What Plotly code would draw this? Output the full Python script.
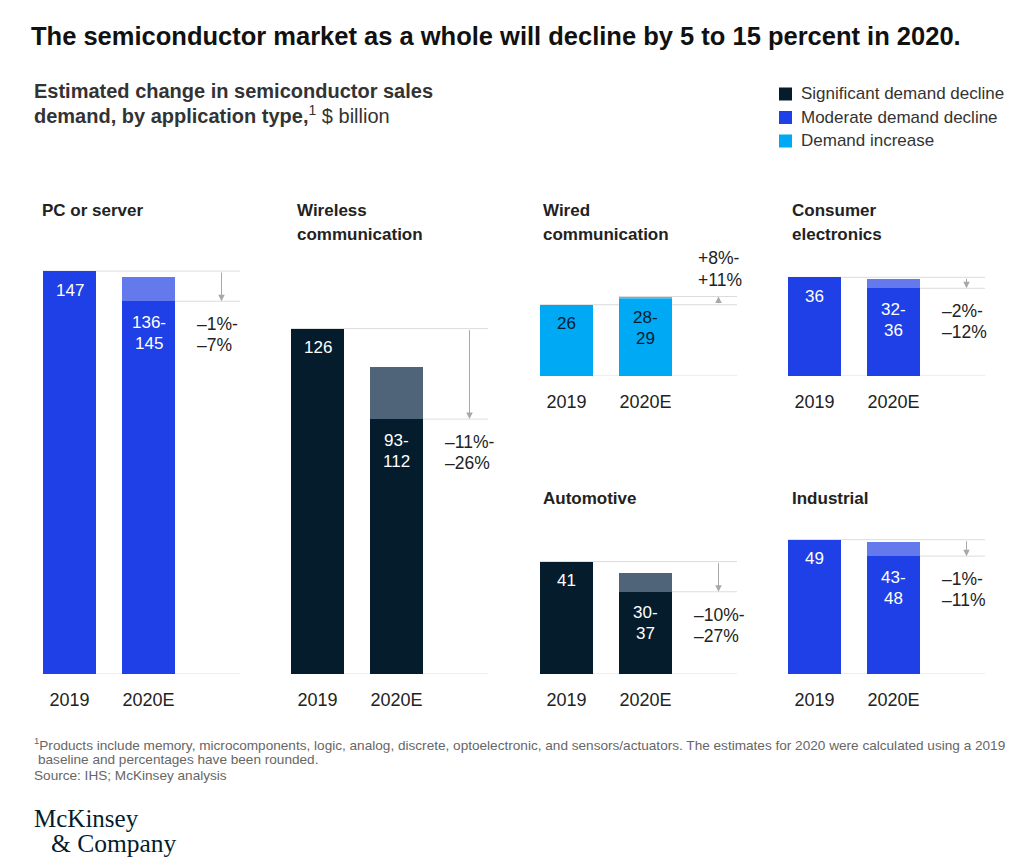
import plotly.graph_objects as go

# ---------------- data ----------------
panel_titles = [["PC or server"], ["Wireless", "communication"], ["Wired", "communication"],
                ["Consumer", "electronics"], ["Automotive"], ["Industrial"]]
years = ["2019", "2020E"]
sales_2019 = [147, 126, 26, 36, 41, 49]
est_2020_low = [136, 93, 28, 32, 30, 43]
est_2020_high = [145, 112, 29, 35.3, 37, 48]
range_labels = [["136-", "145"], ["93-", "112"], ["28-", "29"], ["32-", "36"], ["30-", "37"], ["43-", "48"]]
change_labels = [["–1%-", "–7%"], ["–11%-", "–26%"], ["+8%-", "+11%"], ["–2%-", "–12%"],
                 ["–10%-", "–27%"], ["–1%-", "–11%"]]
demand_type = ["moderate", "significant", "increase", "moderate", "significant", "moderate"]
legend_keys = ["significant", "moderate", "increase"]
legend_labels = ["Significant demand decline", "Moderate demand decline", "Demand increase"]

title_text = "The semiconductor market as a whole will decline by 5 to 15 percent in 2020."
subtitle_lines = ["<b>Estimated change in semiconductor sales</b>",
                  "<b>demand, by application type,</b><sup>1</sup> $ billion"]
footnote_lines = ["<sup>1</sup>Products include memory, microcomponents, logic, analog, discrete, optoelectronic, "
                  "and sensors/actuators. The estimates for 2020 were calculated using a 2019",
                  "baseline and percentages have been rounded.",
                  "Source: IHS; McKinsey analysis"]

# ---------------- style / layout ----------------
W, H = 1024, 864
OFF = 8  # page body margin
FONT = "Liberation Sans, Arial, sans-serif"
COLORS = {"significant": ("#051c2c", "#4f6478"),
          "moderate": ("#1f40e6", "#6479ec"),
          "increase": ("#00a9f4", "#45bff6")}
LABEL_COL = {"significant": "#ffffff", "moderate": "#ffffff", "increase": "#051c2c"}
GRID = "#dcdcdc"
ARROW = "#a8a8a8"
TEXT = "#222222"

PX_PER_UNIT = 2.741
BAR_STEP = 79.0
BAR_W_PX = 53.0
PANEL_W = 197.0
panel_left = [43, 291, 540, 788, 540, 788]
panel_base = [674, 674, 376, 376, 674, 674]
panel_top = [255, 255, 262, 262, 530, 530]
title_pos = [(40, 210), (295, 210), (541, 210), (790, 210), (541, 498), (790, 498)]


def fx(px):
    return (px - OFF) / W


def fy(py):
    return 1 - (py - OFF) / H


fig = go.Figure()
annotations = []
shapes = []
layout_axes = {}

for i in range(6):
    n = "" if i == 0 else str(i + 1)
    xa, ya = "x" + n, "y" + n
    kind = demand_type[i]
    dark, light = COLORS[kind]
    base = sales_2019[i]
    low, high = est_2020_low[i], est_2020_high[i]
    extreme = high if kind == "increase" else low
    idx_2019, idx_2020 = 0, 1  # category positions on the x axis

    # bars: 2019 value and lower bound of 2020E, then the estimate band on top
    fig.add_trace(go.Bar(x=years, y=[base, low], marker=dict(color=dark, line=dict(width=0)),
                         width=BAR_W_PX / BAR_STEP, xaxis=xa, yaxis=ya, showlegend=False,
                         hoverinfo="skip"))
    fig.add_trace(go.Bar(x=[years[1]], y=[high - low], marker=dict(color=light, line=dict(width=0)),
                         width=BAR_W_PX / BAR_STEP, xaxis=xa, yaxis=ya, showlegend=False,
                         hoverinfo="skip"))

    x0 = -BAR_W_PX / 2 / BAR_STEP
    x1 = x0 + PANEL_W / BAR_STEP
    y1 = (panel_base[i] - panel_top[i]) / PX_PER_UNIT
    layout_axes["xaxis" + n] = dict(
        domain=[fx(panel_left[i]), fx(panel_left[i] + PANEL_W)], range=[x0, x1],
        type="category", categoryorder="array", categoryarray=years,
        anchor=ya, showgrid=False, zeroline=False, showline=False,
        ticks="outside", ticklen=9, tickcolor="rgba(0,0,0,0)",
        tickfont=dict(family=FONT, size=18, color=TEXT), fixedrange=True)
    layout_axes["yaxis" + n] = dict(
        domain=[fy(panel_base[i]), fy(panel_top[i])], range=[0, y1], anchor=xa,
        visible=False, fixedrange=True)

    xd = xa + " domain"
    # reference lines
    shapes.append(dict(type="line", xref=xd, yref=ya, x0=0, x1=1, y0=0, y1=0,
                       line=dict(color=GRID, width=1), layer="below"))
    shapes.append(dict(type="line", xref=xd, yref=ya, x0=0, x1=1, y0=base, y1=base,
                       line=dict(color=GRID, width=1), layer="below"))
    shapes.append(dict(type="line", xref=xd, yref=ya, x0=BAR_STEP / PANEL_W, x1=1,
                       y0=extreme, y1=extreme, line=dict(color=GRID, width=1), layer="below"))

    # arrow from 2019 value to extreme 2020E estimate
    annotations.append(dict(x=idx_2020, y=extreme, xref=xa, yref=ya, text="",
                            showarrow=True, ax=0, axref="pixel", ay=base, ayref=ya,
                            xshift=73, arrowhead=2, arrowsize=1.3, arrowwidth=1,
                            arrowcolor=ARROW, standoff=0, startstandoff=0))

    # value labels
    annotations.append(dict(x=idx_2019, y=base, xref=xa, yref=ya, text=str(base),
                            showarrow=False, yshift=-19, yanchor="middle",
                            font=dict(family=FONT, size=17, color=LABEL_COL[kind])))
    top_ref = high if kind == "increase" else low
    for j, line in enumerate(range_labels[i]):
        annotations.append(dict(x=idx_2020, y=top_ref, xref=xa, yref=ya, text=line,
                                showarrow=False, yshift=-21 - 21 * j, yanchor="middle",
                                font=dict(family=FONT, size=17, color=LABEL_COL[kind])))
    for j, line in enumerate(change_labels[i]):
        if kind == "increase":
            ys = 39 - 22 * j
            xs = 50
        else:
            ys = -23 - 21 * j
            xs = 46
        annotations.append(dict(x=idx_2020, y=top_ref, xref=xa, yref=ya, text=line,
                                showarrow=False, yshift=ys, xshift=xs, xanchor="left",
                                yanchor="middle",
                                font=dict(family=FONT, size=17.5, color=TEXT)))

    # panel title
    tx, ty = title_pos[i]
    for j, line in enumerate(panel_titles[i]):
        annotations.append(dict(x=fx(tx), y=fy(ty + 24 * j), xref="paper", yref="paper",
                                text="<b>" + line + "</b>", showarrow=False,
                                xanchor="left", yanchor="middle",
                                font=dict(family=FONT, size=17, color=TEXT)))

# title & subtitle
annotations.append(dict(x=fx(29), y=fy(36), xref="paper", yref="paper", text="<b>" + title_text + "</b>",
                        showarrow=False, xanchor="left", yanchor="middle",
                        font=dict(family=FONT, size=25.5, color="#111111")))
for j, line in enumerate(subtitle_lines):
    annotations.append(dict(x=fx(32), y=fy(91 + 23.5 * j), xref="paper", yref="paper", text=line,
                            showarrow=False, xanchor="left", yanchor="middle",
                            font=dict(family=FONT, size=20, color="#333333")))

# legend
for j, (k, lab) in enumerate(zip(legend_keys, legend_labels)):
    cy = 94 + 23.5 * j
    shapes.append(dict(type="rect", xref="paper", yref="paper", x0=fx(779), x1=fx(792),
                       y0=fy(cy + 6.5), y1=fy(cy - 6.5), fillcolor=COLORS[k][0],
                       line=dict(width=0)))
    annotations.append(dict(x=fx(799), y=fy(cy), xref="paper", yref="paper", text=lab,
                            showarrow=False, xanchor="left", yanchor="middle",
                            font=dict(family=FONT, size=17, color="#333333")))

# footnotes
for line, yy, xx in zip(footnote_lines, [744, 759, 775], [32, 36, 32]):
    annotations.append(dict(x=fx(xx), y=fy(yy), xref="paper", yref="paper", text=line,
                            showarrow=False, xanchor="left", yanchor="middle",
                            font=dict(family=FONT, size=13.6, color="#666666")))

# logo
LOGO_FONT = "Liberation Serif, DejaVu Serif, serif"
annotations.append(dict(x=fx(32), y=fy(818), xref="paper", yref="paper", text="McKinsey",
                        showarrow=False, xanchor="left", yanchor="middle",
                        font=dict(family=LOGO_FONT, size=25, color="#051c2c")))
annotations.append(dict(x=fx(49), y=fy(843), xref="paper", yref="paper", text="&amp; Company",
                        showarrow=False, xanchor="left", yanchor="middle",
                        font=dict(family=LOGO_FONT, size=25.5, color="#051c2c")))

fig.update_layout(
    width=W, height=H, margin=dict(l=0, r=0, t=0, b=0),
    paper_bgcolor="white", plot_bgcolor="rgba(0,0,0,0)",
    barmode="stack", bargap=0, showlegend=False,
    annotations=annotations, shapes=shapes,
    font=dict(family=FONT),
    **layout_axes)

fig.write_html("out.html", config={"displayModeBar": False})
